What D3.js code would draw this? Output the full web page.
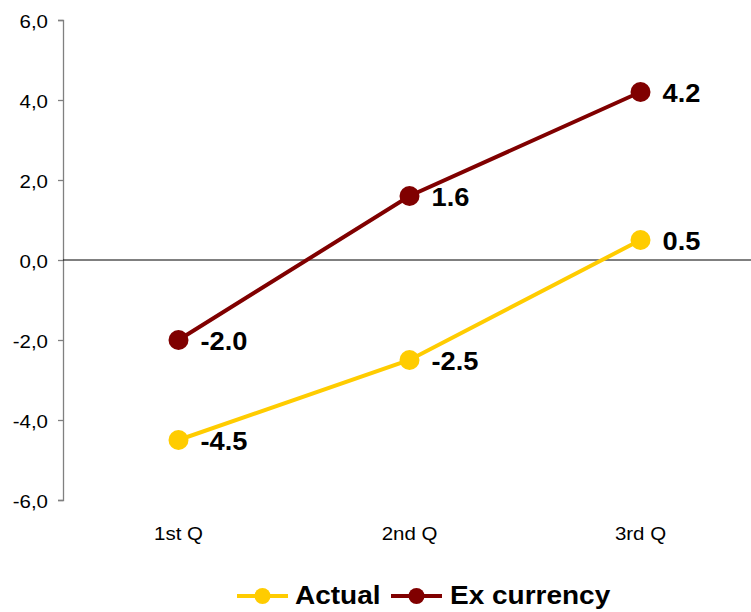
<!DOCTYPE html>
<html><head><meta charset="utf-8">
<script src="https://cdn.jsdelivr.net/npm/d3@7"></script>
<style>body{margin:0;background:#fff}svg{display:block}</style>
</head><body>
<svg id="c" width="751" height="612"></svg>
<script>
const categories = ["1st Q","2nd Q","3rd Q"];
const actual = [-4.5, -2.5, 0.5];
const exCurrency = [-2.0, 1.6, 4.2];
const yTicks = [-6, -4, -2, 0, 2, 4, 6];
const seriesNames = ["Actual", "Ex currency"];
const colors = ["#FFCC00", "#800000"];

const svg = d3.select("#c");
const font = "'Liberation Sans', Arial, sans-serif";
const x = d3.scaleBand().domain(categories).range([63, 756]);
const y = d3.scaleLinear().domain([-6, 6]).range([500, 20]);
const fmt = d => d3.format(".1f")(d).replace("\u2212", "-");

function stretchText(sel, xs, ys, sx) {
  sel.attr("x", 0).attr("y", 0)
    .attr("transform", (d, i) => `translate(${xs(d, i)},${ys(d, i)}) scale(${sx},1)`);
}

// y axis
const ya = svg.append("g").attr("transform", "translate(63,0)")
  .call(d3.axisLeft(y).tickValues(yTicks).tickSize(5).tickPadding(8)
    .tickFormat(d => fmt(d).replace(".", ",")));
ya.select(".domain").attr("stroke", "#808080").attr("stroke-width", 1.3);
ya.selectAll(".tick line").attr("stroke", "#808080").attr("stroke-width", 1.3);
ya.selectAll(".tick text").attr("font-family", font).attr("font-size", 17.5).attr("fill", "#000")
  .attr("dy", null)
  .attr("x", 0).attr("y", 0).attr("transform", "translate(-15,7) scale(1.17,1)");

// zero line
svg.append("line").attr("x1", 63).attr("x2", 756).attr("y1", y(0)).attr("y2", y(0))
  .attr("stroke", "#000").attr("stroke-width", 1);

// category labels
svg.selectAll(".cat").data(categories).join("text")
  .attr("text-anchor", "middle").attr("font-family", font).attr("font-size", 17.5)
  .text(d => d)
  .call(stretchText, d => x(d) + x.bandwidth() / 2, () => 540, 1.17);

const series = [actual, exCurrency];
const cx = (d, i) => x(categories[i]) + x.bandwidth() / 2;
const line = d3.line().x(cx).y(d => y(d));
series.forEach((s, k) => {
  svg.append("path").datum(s).attr("d", line).attr("fill", "none")
    .attr("stroke", colors[k]).attr("stroke-width", 4);
  svg.selectAll(".pt" + k).data(s).join("circle")
    .attr("cx", cx).attr("cy", d => y(d))
    .attr("r", 10).attr("fill", colors[k]);
  svg.selectAll(".lb" + k).data(s).join("text")
    .attr("font-family", font).attr("font-size", 25).attr("font-weight", "bold")
    .text(d => fmt(d))
    .call(stretchText, (d, i) => cx(d, i) + 22, d => y(d) + 10, 1.09);
});

// legend
const leg = [{x0: 237, tx: 295}, {x0: 391, tx: 450}];
leg.forEach((l, k) => {
  svg.append("line").attr("x1", l.x0).attr("x2", l.x0 + 51).attr("y1", 596).attr("y2", 596)
    .attr("stroke", colors[k]).attr("stroke-width", 4);
  svg.append("circle").attr("cx", l.x0 + 25.5).attr("cy", 596).attr("r", 8).attr("fill", colors[k]);
  svg.append("text").attr("font-family", font)
    .attr("font-size", 25).attr("font-weight", "bold").text(seriesNames[k])
    .attr("transform", `translate(${l.tx},604) scale(1.12,1)`);
});
</script>
</body></html>
